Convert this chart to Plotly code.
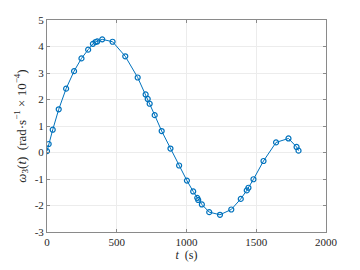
import plotly.graph_objects as go

t = [0, 12, 41, 84, 137, 194, 247, 295, 329, 348, 360, 396, 470, 561, 650, 707, 722, 736, 772,
     822, 885, 947, 1003, 1048, 1077, 1084, 1110, 1163, 1240, 1321, 1389, 1432, 1444, 1480, 1552,
     1642, 1731, 1789, 1803]
w3 = [0.05, 0.32, 0.86, 1.63, 2.41, 3.07, 3.55, 3.88, 4.10, 4.17, 4.19, 4.27, 4.18, 3.63, 2.83,
      2.19, 2.02, 1.84, 1.41, 0.81, 0.15, -0.49, -1.06, -1.47, -1.71, -1.79, -1.96, -2.25, -2.35,
      -2.15, -1.75, -1.43, -1.33, -1.01, -0.32, 0.38, 0.53, 0.21, 0.07]

xticks = [0, 500, 1000, 1500, 2000]
yticks = [-3, -2, -1, 0, 1, 2, 3, 4, 5]
yticktext = [str(v) for v in yticks]

blue = "#0072BD"
font = "Liberation Serif"

fig = go.Figure()
fig.add_trace(go.Scatter(
    x=t, y=w3, mode="lines+markers",
    line=dict(color=blue, width=1),
    marker=dict(symbol="circle-open", size=5, color=blue, line=dict(width=1.2, color=blue)),
    showlegend=False,
))

axis_common = dict(
    showline=True, linecolor="#8a8a8a", linewidth=1, mirror="ticks",
    ticks="inside", ticklen=3, tickcolor="#8a8a8a",
    showgrid=True, gridcolor="#ececec", gridwidth=1,
    zeroline=False,
    tickfont=dict(family=font, size=11, color="#262626"),
)

fig.update_layout(
    width=360, height=270,
    margin=dict(l=47, r=34, t=20, b=32),
    paper_bgcolor="white", plot_bgcolor="white",
    font=dict(family=font, color="#262626"),
    xaxis=dict(range=[0, 2000], tickvals=xticks, ticktext=[str(v) for v in xticks],
               title=dict(text="<i>t</i>  (s)", font=dict(family=font, size=12), standoff=1),
               **axis_common),
    yaxis=dict(range=[-3, 5], tickvals=yticks, ticktext=yticktext,
               title=dict(text="<i>ω</i><sub>3</sub>(<i>t</i>)  (rad·s<sup>−1</sup> × 10<sup>−4</sup>)",
                          font=dict(family=font, size=13), standoff=5),
               **axis_common),
)

fig.write_html("out.html")
